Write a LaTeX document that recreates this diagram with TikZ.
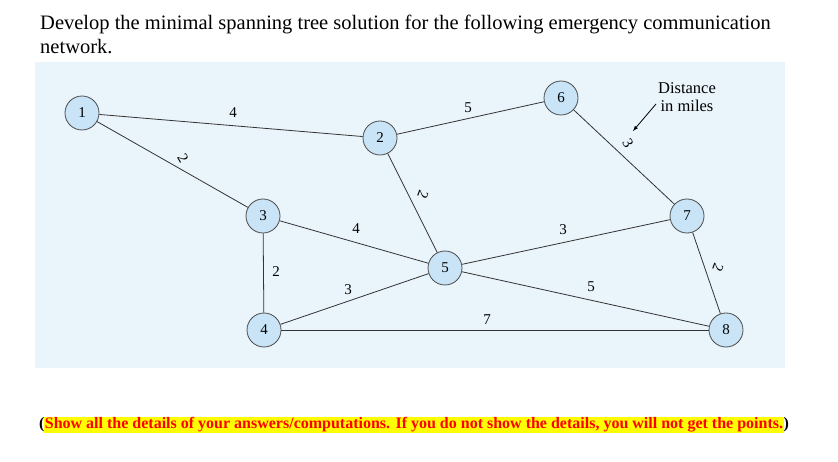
\documentclass[tikz,border=0pt]{standalone}
\usepackage{fontspec}
\setmainfont{Liberation Serif}
\definecolor{bgblue}{RGB}{234,244,251}
\definecolor{nodeblue}{RGB}{200,228,246}
\definecolor{hiyel}{RGB}{255,255,0}
\setlength{\fboxsep}{0.5pt}
\begin{document}
\begin{tikzpicture}[x=1pt,y=-1pt,
  vert/.style={circle,draw=black!70,fill=nodeblue,line width=0.8pt,minimum size=34pt,inner sep=0pt,font=\fontsize{15}{15}\selectfont},
  edge/.style={line width=0.8pt,black!80},
  wlab/.style={font=\fontsize{15}{15}\selectfont}]
\useasboundingbox (0,0) rectangle (838,462);
\fill[white] (0,0) rectangle (838,462);
\fill[bgblue] (35,62) rectangle (785,368);
\node[anchor=west,align=left,font=\fontsize{20.5}{24}\selectfont,inner sep=0pt] (title) at (40,34) {Develop the minimal spanning tree solution for the following emergency communication\\network.};
\node[vert] (n1) at (82,113) {1};
\node[vert] (n2) at (380,138) {2};
\node[vert] (n6) at (561,98) {6};
\node[vert] (n3) at (263,216) {3};
\node[vert] (n7) at (687,216) {7};
\node[vert] (n5) at (445,268) {5};
\node[vert] (n4) at (264,330) {4};
\node[vert] (n8) at (726,330) {8};
\draw[edge] (n1) -- (n2);
\draw[edge] (n1) -- (n3);
\draw[edge] (n2) -- (n6);
\draw[edge] (n2) -- (n5);
\draw[edge] (n6) -- (n7);
\draw[edge] (n3) -- (n5);
\draw[edge] (n3) -- (n4);
\draw[edge] (n5) -- (n7);
\draw[edge] (n4) -- (n5);
\draw[edge] (n5) -- (n8);
\draw[edge] (n4) -- (n8);
\draw[edge] (n7) -- (n8);
\node[wlab] (l12) at (233,113) {4};
\node[wlab,rotate=-60] (l13) at (183,158) {2};
\node[wlab] (l26) at (468,108) {5};
\node[wlab,rotate=-110] (l25) at (423,195) {2};
\node[wlab,rotate=-60] (l67) at (628,143) {3};
\node[wlab] (l35) at (356,229) {4};
\node[wlab] (l34) at (276,272) {2};
\node[wlab] (l57) at (563,230) {3};
\node[wlab] (l45) at (348,290) {3};
\node[wlab] (l58) at (591,287) {5};
\node[wlab] (l48) at (487,320) {7};
\node[wlab,rotate=-110] (l78) at (718,268) {2};
\node[align=center,font=\fontsize{16.5}{18}\selectfont] (dist) at (687,97) {Distance\\in miles};
\coordinate (arr) at (633,131);
\draw[line width=0.8pt,-{latex}] (656,104) -- (arr);
\node[font=\bfseries\fontsize{16}{17}\selectfont,inner sep=0pt] (note) at (414,425) {(\colorbox{hiyel}{\textcolor{red}{Show all the details of your answers/computations. If you do not show the details, you will not get the points.}})};
\end{tikzpicture}
\end{document}
